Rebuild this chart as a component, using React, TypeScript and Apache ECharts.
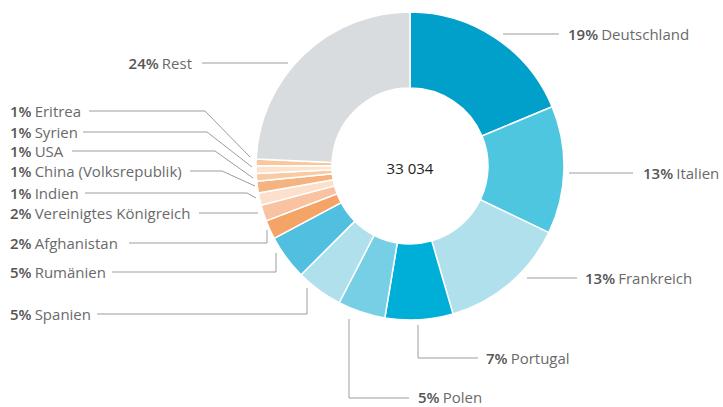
import React, { useEffect, useRef } from "react";
import * as echarts from "echarts";

const countries = [
  "Deutschland",
  "Italien",
  "Frankreich",
  "Portugal",
  "Polen",
  "Spanien",
  "Rumänien",
  "Afghanistan",
  "Vereinigtes Königreich",
  "Indien",
  "China (Volksrepublik)",
  "USA",
  "Syrien",
  "Eritrea",
  "Rest",
];
const counts = [6180, 4430, 4420, 2350, 1650, 1620, 1550, 660, 560, 430, 400, 270, 265, 230, 8019];
const colors = [
  "#00a0cb",
  "#4fc6e0",
  "#b0e0ec",
  "#00afd7",
  "#76cfe5",
  "#b0e0ec",
  "#51bfe0",
  "#f4a466",
  "#f9c2a1",
  "#fde0cc",
  "#f5b47f",
  "#f9cba4",
  "#fde2ce",
  "#f9c79e",
  "#d9dcdf",
];

// label placement (layout only)
const LAYOUT: { x: number; y: number; align: string; line: number[][] }[] = [
  { x: 568, y: 34, align: "left", line: [[503, 34], [559, 34]] },
  { x: 643, y: 173, align: "left", line: [[569, 173], [633, 173]] },
  { x: 585, y: 278, align: "left", line: [[527, 278], [577, 278]] },
  { x: 486, y: 358, align: "left", line: [[418, 325], [418, 358], [478, 358]] },
  { x: 418, y: 397, align: "left", line: [[349, 319], [349, 398], [409, 398]] },
  { x: 10, y: 314, align: "left", line: [[307, 288], [307, 314], [97, 314]] },
  { x: 10, y: 272, align: "left", line: [[276, 253], [276, 272], [112, 272]] },
  { x: 10, y: 243, align: "left", line: [[267, 230], [267, 243], [129, 243]] },
  { x: 10, y: 213, align: "left", line: [[258, 213], [199, 213]] },
  { x: 10, y: 193, align: "left", line: [[256, 198], [247, 193], [85, 193]] },
  { x: 10, y: 171, align: "left", line: [[255, 186], [222, 171], [190, 171]] },
  { x: 10, y: 151, align: "left", line: [[253, 178], [215, 151], [72, 151]] },
  { x: 10, y: 132, align: "left", line: [[252, 167], [207, 132], [83, 132]] },
  { x: 10, y: 111, align: "left", line: [[250, 157], [205, 111], [89, 111]] },
  { x: 192, y: 63, align: "right", line: [[288, 63], [202, 63]] },
];

const FONT = "'Open Sans', 'Noto Sans', sans-serif";

export default function App() {
  const ref = useRef<HTMLDivElement>(null);
  useEffect(() => {
    if (!ref.current) return;
    const chart = echarts.init(ref.current, null, { renderer: "svg" });
    const total = counts.reduce((a, b) => a + b, 0);
    const totalText = String(total).replace(/\B(?=(\d{3})+(?!\d))/g, " ");
    chart.setOption({
      animation: false,
      backgroundColor: "#ffffff",
      graphic: [
        {
          type: "text",
          x: 410,
          y: 168,
          style: {
            text: totalText,
            align: "center",
            verticalAlign: "middle",
            fontFamily: FONT,
            fontSize: 15,
            fill: "#222222",
          },
        },
      ],
      series: [
        {
          type: "pie",
          center: [410, 166],
          radius: [78, 154],
          startAngle: 90,
          clockwise: true,
          avoidLabelOverlap: false,
          itemStyle: { borderColor: "#ffffff", borderWidth: 1.5 },
          emphasis: { disabled: true },
          data: countries.map((n, i) => ({
            name: n,
            value: counts[i],
            itemStyle: { color: colors[i] },
          })),
          label: {
            show: true,
            position: "outside",
            fontFamily: FONT,
            lineHeight: 15,
            formatter: (p: any) => `{p|${Math.round(p.percent)}%} {n|${p.name}}`,
            rich: {
              p: { fontFamily: FONT, fontSize: 15, lineHeight: 15, fontWeight: 600, color: "#555555" },
              n: { fontFamily: FONT, fontSize: 15, lineHeight: 15, color: "#6a6a6a" },
            },
          },
          labelLine: {
            show: true,
            length: 5,
            length2: 5,
            lineStyle: { color: "#9d9d9d", width: 1 },
          },
          labelLayout: (params: any) => {
            const L = LAYOUT[params.dataIndex];
            return {
              x: L.x,
              y: L.y,
              align: L.align,
              verticalAlign: "middle",
              labelLinePoints: L.line,
            };
          },
        },
      ],
    });
    return () => chart.dispose();
  }, []);
  return (
    <div
      ref={ref}
      style={{ position: "absolute", left: 0, top: 0, width: 723, height: 407 }}
    />
  );
}
